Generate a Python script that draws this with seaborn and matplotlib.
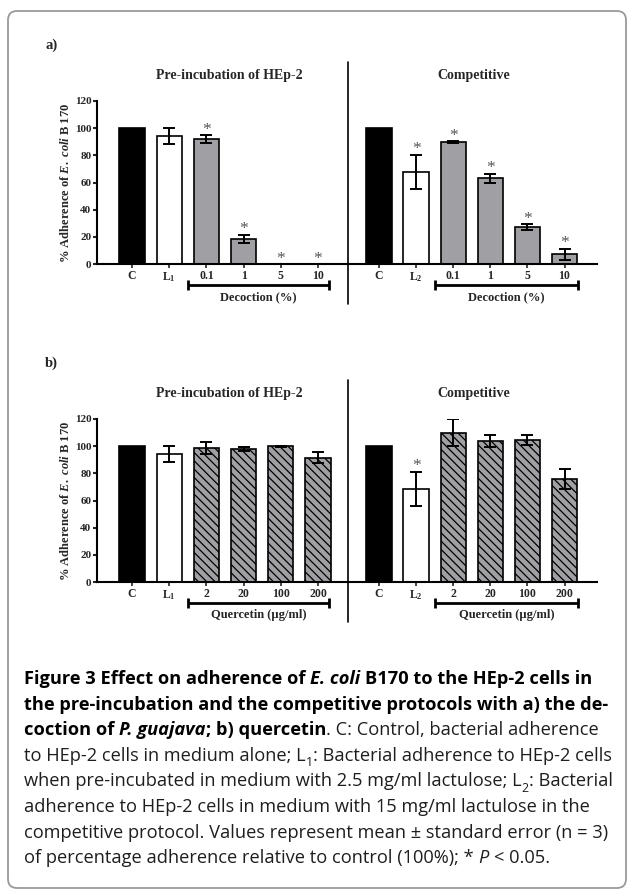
import numpy as np
import pandas as pd
import matplotlib
matplotlib.use("Agg")
import matplotlib.pyplot as plt
import seaborn as sns
from matplotlib.patches import FancyBboxPatch
from matplotlib.lines import Line2D
from matplotlib.transforms import IdentityTransform, blended_transform_factory

# ---------------- data ----------------
cats_a_pre = ["C", "L1", "0.1", "1", "5", "10"]
labels_a_pre = ["C", "L$_1$", "0.1", "1", "5", "10"]
mean_a_pre = [100, 94, 92, 18.5, 0, 0]
err_a_pre = [0, 6, 3, 3.2, 0, 0]
sig_a_pre = [False, False, True, True, True, True]

cats_a_comp = ["C", "L2", "0.1", "1", "5", "10"]
labels_a_comp = ["C", "L$_2$", "0.1", "1", "5", "10"]
mean_a_comp = [100, 68, 89.6, 63.2, 27, 7]
err_a_comp = [0, 12.5, 0.8, 3.3, 2.3, 4.3]
sig_a_comp = [False, True, True, True, True, True]

cats_b_pre = ["C", "L1", "2", "20", "100", "200"]
labels_b_pre = ["C", "L$_1$", "2", "20", "100", "200"]
mean_b_pre = [100, 94.3, 98.5, 98.2, 99.9, 91.5]
err_b_pre = [0, 6, 4.3, 1.5, 0.5, 3.9]
sig_b_pre = [False, False, False, False, False, False]

cats_b_comp = ["C", "L2", "2", "20", "100", "200"]
labels_b_comp = ["C", "L$_2$", "2", "20", "100", "200"]
mean_b_comp = [100, 68.4, 110, 104, 104.5, 76]
err_b_comp = [0, 12.8, 10, 4.5, 3.8, 7.5]
sig_b_comp = [False, True, False, False, False, False]

group_kind = ["control", "lactulose", "treat", "treat", "treat", "treat"]
panel_titles = ["Pre-incubation of HEp-2", "Competitive"]
xlabel_a = "Decoction (%)"
xlabel_b = "Quercetin (\u00b5g/ml)"
ylabel = r"% Adherence of $\mathit{E.\ coli}$ B 170"
yticks = [0, 20, 40, 60, 80, 100, 120]

# ---------------- style ----------------
sns.set_style("ticks")
plt.rcParams.update({
    "font.family": ["Liberation Serif", "DejaVu Serif"],
    "font.weight": "bold",
    "mathtext.fontset": "custom",
    "mathtext.rm": "Liberation Serif:bold",
    "mathtext.it": "Liberation Serif:italic:bold",
    "mathtext.bf": "Liberation Serif:bold",
    "hatch.linewidth": 0.9,
    "axes.linewidth": 1.5,
    "axes.edgecolor": "black",
})

W, H = 628, 891
fig = plt.figure(figsize=(W / 100, H / 100), dpi=100)
fig.patch.set_facecolor("white")

GRAY = "#a09fa4"
kind_color = {"control": "black", "lactulose": "white", "treat": GRAY}


def rect(left, right, ybot, ytop):
    return [left / W, 1 - ybot / H, (right - left) / W, (ybot - ytop) / H]


def draw_panel(ax, cats, labels, means, errs, sig, hatched, show_y, xlim,
               bracket_end, xlabel):
    colors = [kind_color[k] for k in group_kind]
    df = pd.DataFrame({"cat": cats, "val": means})
    sns.barplot(data=df, x="cat", y="val", hue="cat", order=cats,
                hue_order=cats, palette=dict(zip(cats, colors)), dodge=False,
                width=0.68, saturation=1, edgecolor="black", linewidth=1.2,
                errorbar=None, legend=False, ax=ax)
    if hatched:
        for p, k in zip(ax.patches, group_kind):
            if k == "treat":
                p.set_hatch("\\\\\\\\")
    pos = np.arange(len(cats))
    idx = [i for i, e in enumerate(errs) if e > 0]
    ax.errorbar(pos[idx], [means[i] for i in idx], yerr=[errs[i] for i in idx],
                fmt="none", ecolor="black", elinewidth=1.4, capsize=4.3,
                capthick=1.4, zorder=5)
    for i, s in enumerate(sig):
        if s:
            ax.annotate("*", xy=(pos[i], means[i] + errs[i]), xytext=(0, -2),
                        textcoords="offset points", ha="center", va="bottom",
                        fontsize=12.5, fontweight="normal", color="#555555",
                        annotation_clip=False)
    ax.set_ylim(0, 120)
    ax.set_xlim(*xlim)
    ax.set_xticks(pos)
    ax.set_xticklabels(labels)
    ax.set_xlabel("")
    ax.set_facecolor("none")
    ax.spines["top"].set_visible(False)
    ax.spines["right"].set_visible(False)
    ax.spines["bottom"].set_linewidth(1.5)
    ax.tick_params(axis="x", length=3, width=1.2, pad=1.5, labelsize=8.5)
    if show_y:
        ax.set_yticks(yticks)
        ax.tick_params(axis="y", length=3, width=1.5, pad=1, labelsize=8)
        ax.spines["left"].set_linewidth(1.5)
        ax.set_ylabel(ylabel, fontsize=9, fontweight="bold")
        ax.yaxis.set_label_coords(-0.10, 0.5)
    else:
        ax.spines["left"].set_visible(False)
        ax.tick_params(axis="y", left=False, labelleft=False)
        ax.set_ylabel("")
    trans = blended_transform_factory(ax.transData, ax.transAxes)
    ax.plot([1.5, bracket_end], [-0.129, -0.129], transform=trans,
            color="black", lw=2, clip_on=False, marker="|", markersize=7,
            mew=2, solid_capstyle="butt")
    ax.text((1.5 + bracket_end) / 2, -0.205, xlabel, transform=trans,
            ha="center", va="center", fontsize=9, fontweight="bold")


panels = [
    (0, (cats_a_pre, labels_a_pre, mean_a_pre, err_a_pre, sig_a_pre),
     (cats_a_comp, labels_a_comp, mean_a_comp, err_a_comp, sig_a_comp),
     False, xlabel_a, "a)"),
    (318, (cats_b_pre, labels_b_pre, mean_b_pre, err_b_pre, sig_b_pre),
     (cats_b_comp, labels_b_comp, mean_b_comp, err_b_comp, sig_b_comp),
     True, xlabel_b, "b)"),
]

for off, pre, comp, hatched, xl, tag in panels:
    ybot, ytop = 264 + off, 101 + off
    axl = fig.add_axes(rect(97, 348, ybot, ytop))
    draw_panel(axl, *pre, hatched=hatched, show_y=True, xlim=(-0.94, 5.806),
               bracket_end=5.3, xlabel=xl)
    axr = fig.add_axes(rect(348, 597, ybot, ytop))
    draw_panel(axr, *comp, hatched=hatched, show_y=False,
               xlim=(-0.836, 5.876), bracket_end=5.36, xlabel=xl)
    fig.text(229 / W, 1 - (75 + off) / H, panel_titles[0], ha="center",
             va="center", fontsize=10, fontweight="bold")
    fig.text(474 / W, 1 - (75 + off) / H, panel_titles[1], ha="center",
             va="center", fontsize=10, fontweight="bold")
    fig.text(45 / W, 1 - (45 + off) / H, tag, ha="left", va="center",
             fontsize=10.5, fontweight="bold")
    fig.add_artist(Line2D([348 / W, 348 / W],
                          [1 - (62 + off) / H, 1 - (304 + off) / H],
                          color="black", lw=1.2))

# ---------------- frame ----------------
frame = FancyBboxPatch((8, H - 888), 618, 877,
                       boxstyle="round,pad=0,rounding_size=9",
                       transform=IdentityTransform(), fill=False,
                       edgecolor="#9a9a9a", lw=1.3)
fig.add_artist(frame)

# ---------------- caption ----------------
cap_font = ["Open Sans", "DejaVu Sans"]
renderer = fig.canvas.get_renderer()

B, N, BI, I, SUB = "b", "n", "bi", "i", "sub"
caption = [
    [("Figure 3 Effect on adherence of ", B), ("E. coli", BI),
     (" B170 to the HEp-2 cells in", B)],
    [("the pre-incubation and the competitive protocols with a) the de-", B)],
    [("coction of ", B), ("P. guajava", BI), ("; b) quercetin", B),
     (". C: Control, bacterial adherence", N)],
    [("to HEp-2 cells in medium alone; L", N), ("1", SUB),
     (": Bacterial adherence to HEp-2 cells", N)],
    [("when pre-incubated in medium with 2.5 mg/ml lactulose; L", N),
     ("2", SUB), (": Bacterial", N)],
    [("adherence to HEp-2 cells in medium with 15 mg/ml lactulose in the", N)],
    [("competitive protocol. Values represent mean \u00b1 standard error (n = 3)", N)],
    [("of percentage adherence relative to control (100%); * ", N), ("P", I),
     (" < 0.05.", N)],
]


def style_of(kind, size):
    weight = "bold" if kind in (B, BI) else "normal"
    style = "italic" if kind in (BI, I) else "normal"
    fs = size * 0.68 if kind == SUB else size
    color = "black" if kind in (B, BI) else "#1e1e1e"
    return dict(fontsize=fs, fontweight=weight, fontstyle=style,
                family=cap_font, color=color)


def tw(s, kw):
    t = fig.text(0, 0, s, **kw)
    w = t.get_window_extent(renderer).width
    t.remove()
    return w


def adv(s, kw):
    return tw("|" + s + "|", kw) - tw("||", kw)


def line_width(segs, size):
    return sum(adv(s, style_of(k, size)) for s, k in segs)


base = 10.0
maxw = max(line_width(segs, base) for segs in caption)
size = base * 589 / maxw

x0 = 24
for li, segs in enumerate(caption):
    baseline = 684 + 25.6 * li
    x = x0
    for s, k in segs:
        kw = style_of(k, size)
        lead = s[: len(s) - len(s.lstrip(" "))]
        core = s.strip(" ")
        dy = size * 100 / 72 * 0.28 if k == SUB else 0
        fig.text((x + adv(lead, kw)) / W, 1 - (baseline + dy) / H, core,
                 ha="left", va="baseline", **kw)
        x += adv(s, kw)

fig.savefig("out.png", dpi=100, facecolor="white")
